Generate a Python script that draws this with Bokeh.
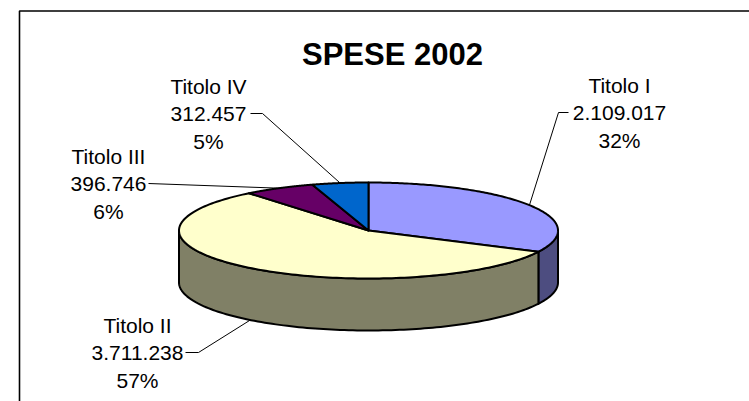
import numpy as np
from bokeh.plotting import figure
from bokeh.models import Range1d
from bokeh.core.properties import value
from bokeh.embed import file_html
from bokeh.resources import INLINE

# ---------------- data ----------------
categories = ["Titolo I", "Titolo II", "Titolo III", "Titolo IV"]
values = [2109017, 3711238, 396746, 312457]
chart_title = "SPESE 2002"

# ---------------- styles / layout ----------------
top_colors = ["#9999FF", "#FFFFCC", "#660066", "#0066CC"]
side_colors = ["#4D4D80", "#808066", "#330033", "#003366"]
W, H = 749, 401
CX, CY, RX, RY, DEPTH = 368.0, 230.0, 189.5, 48.0, 52.0
label_centers = [(619, 112), (137, 352), (108, 183), (208, 113)]  # (x, y of middle line)
line_gap = 27.5
elbows = [[(568, 112), (558, 112)], [(185, 352), (198, 352)], [(148, 183)], [(250, 113), (262, 113)]]
FONT = "Liberation Sans"

p = figure(width=W, height=H, output_backend="svg", toolbar_location=None,
           x_axis_type=None, y_axis_type=None,
           x_range=Range1d(0, W), y_range=Range1d(H, 0),
           min_border=0)
p.outline_line_color = None
p.background_fill_color = "white"
p.border_fill_color = "white"

# frame lines (chart area border)
p.line([19, 19, W], [H, 10.5, 10.5], line_color="black", line_width=1.6)

total = float(sum(values))
fr = np.array(values, dtype=float) / total
ends = 90.0 - 360.0 * np.cumsum(fr)
starts = np.concatenate([[90.0], ends[:-1]])


def ell(t_deg, dy=0.0):
    t = np.radians(t_deg)
    return CX + RX * np.cos(t), CY - RY * np.sin(t) + dy


# side faces (front half only: angles in [-180, 0])
for s, e, c in zip(starts, ends, side_colors):
    for k in (-1, 0, 1):
        lo = max(e, -180 + 360 * k)
        hi = min(s, 0 + 360 * k)
        if lo < hi:
            ts = np.linspace(hi, lo, 120)
            xt, yt = ell(ts)
            xb, yb = ell(ts[::-1], DEPTH)
            p.patch(np.concatenate([xt, xb]), np.concatenate([yt, yb]),
                    fill_color=c, line_color="black", line_width=2, line_join="round")

# top faces
for s, e, c in zip(starts, ends, top_colors):
    ts = np.linspace(s, e, 160)
    xs, ys = ell(ts)
    p.patch(np.concatenate([[CX], xs]), np.concatenate([[CY], ys]),
            fill_color=c, line_color="black", line_width=2, line_join="round")

# leader lines
for s, e, el in zip(starts, ends, elbows):
    m = (s + e) / 2.0
    dy = DEPTH if np.sin(np.radians(m)) < 0 else 0.0
    px, py = ell(m, dy)
    xs = [pt[0] for pt in el] + [float(px)]
    ys = [pt[1] for pt in el] + [float(py)]
    p.line(xs, ys, line_color="black", line_width=1)

# labels
tx, ty, tt = [], [], []
for cat, v, f, (lx, ly) in zip(categories, values, fr, label_centers):
    lines = [cat, f"{v:,}".replace(",", "."), f"{round(f * 100):d}%"]
    for i, ln in enumerate(lines):
        tx.append(lx)
        ty.append(ly + (i - 1) * line_gap)
        tt.append(ln)
p.text(x=tx, y=ty, text=tt, text_align="center", text_baseline="middle",
       text_font=value(FONT), text_font_size="21px", text_color="black")

# title
p.text(x=[392], y=[54], text=[chart_title], text_align="center", text_baseline="middle",
       text_font=value(FONT), text_font_size="31px", text_font_style="bold", text_color="black")

open("out.html", "w").write(file_html(p, INLINE))
